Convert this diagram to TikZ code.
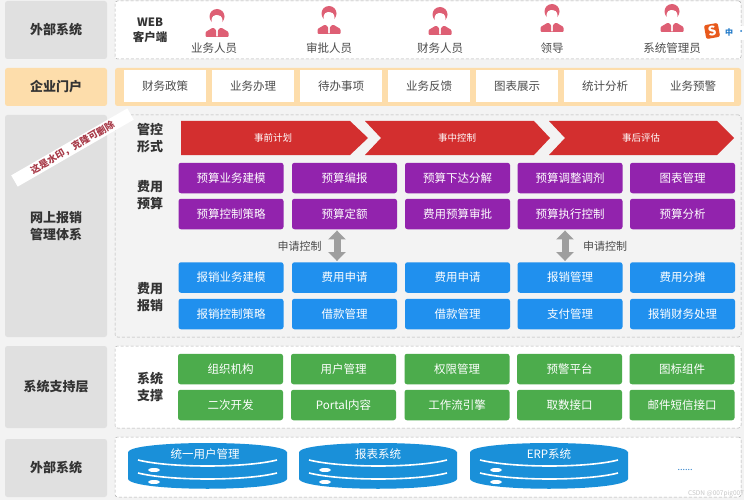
\documentclass[tikz,border=0pt]{standalone}
\usepackage{fontspec}
\setmainfont{Noto Sans CJK SC}
\usetikzlibrary{arrows.meta}

\definecolor{pagegray}{HTML}{F3F3F3}
\definecolor{sidegray}{HTML}{E0E0E0}
\definecolor{sideorange}{HTML}{FDDDAB}
\definecolor{ctlred}{HTML}{D32F2F}
\definecolor{ysviolet}{HTML}{9223AD}
\definecolor{bxblue}{HTML}{2090EE}
\definecolor{zcgreen}{HTML}{4CAC4C}
\definecolor{dbblue}{HTML}{1A90D9}
\definecolor{personred}{HTML}{DE5F74}
\definecolor{stampred}{HTML}{A83A48}
\definecolor{sogouorange}{HTML}{E8591C}
\definecolor{sogoublue}{HTML}{1E78C8}

\begin{document}
\begin{tikzpicture}[x=1pt, y=-1pt,
    side/.style={rounded corners=2.5pt, fill=sidegray, inner sep=0pt, font=\fontsize{13}{17}\selectfont\bfseries, text=black!80, align=center},
    layer/.style={rounded corners=2.5pt, draw=black!30, densely dashed, line width=0.5pt, inner sep=0pt},
    portal/.style={fill=white, minimum width=82pt, minimum height=32pt, inner sep=0pt, font=\fontsize{11.5}{14}\selectfont, text=black!70},
    head/.style={inner sep=0pt, font=\fontsize{13}{17}\selectfont\bfseries, text=black!80, align=center},
    role/.style={inner sep=0pt, font=\fontsize{11.5}{14}\selectfont, text=black!70},
    ctl/.style={inner sep=0pt, text=white, font=\fontsize{9.5}{11}\selectfont},
    func/.style={rounded corners=2.5pt, minimum width=105pt, minimum height=30.5pt, inner sep=0pt, text=white, font=\fontsize{11.5}{14}\selectfont},
    ys/.style={func, fill=ysviolet},
    bx/.style={func, fill=bxblue},
    zc/.style={func, fill=zcgreen},
    ctlarrow/.style={draw=black!38, line width=7pt, shorten >=1pt, shorten <=1pt, {Triangle[width=17pt,length=9pt]}-{Triangle[width=17pt,length=9pt]}},
    db/.style={fill=dbblue},
    dbline/.style={draw=white, line width=1.6pt},
    person/.pic={
      \fill[personred, rounded corners=1pt] (-11.5,28) -- (-11.5,23) -- (-4,18.5) -- (-0.8,21) -- (-0.8,28) -- (0.8,28) -- (0.8,21) -- (4,18.5) -- (11.5,23) -- (11.5,28) -- cycle;
      \fill[personred] (0,7.5) ellipse (7.5pt and 7.5pt);
      \fill[white] (0,11.5) ellipse (5.5pt and 6pt);
      \fill[personred] (-5.5,8.5) -- (-3,5.5) -- (3.5,6.5) -- (5.5,9) -- (5.5,3) -- (-5.5,3) -- cycle;
    }]
  \useasboundingbox (0,0) rectangle (744,500);
  \fill[pagegray] (0,0) rectangle (744,500);

  % Side labels
  \draw (56,30)    node(sExt)  [side, minimum width=102pt, minimum height=58pt] {外部系统};
  \draw (56,87)    node(sPort) [side, fill=sideorange, minimum width=102pt, minimum height=38pt] {企业门户};
  \draw (56,226)   node(sBx)   [side, minimum width=102pt, minimum height=222pt, align=center] {网上报销\\管理体系};
  \draw (56,387)   node(sSup)  [side, minimum width=102pt, minimum height=82pt] {系统支持层};
  \draw (56,468)   node(sOut)  [side, minimum width=102pt, minimum height=58pt] {外部系统};

  % Layers
  \draw (428,30)   node(lExt)  [layer, fill=white, minimum width=626pt, minimum height=58pt] {};
  \draw (428,87)   node(lPort) [rounded corners=2.5pt, fill=sideorange, minimum width=626pt, minimum height=38pt] {};
  \draw (428,226)  node(lBx)   [layer, minimum width=626pt, minimum height=222pt] {};
  \draw (428,387)  node(lSup)  [layer, fill=white, minimum width=626pt, minimum height=82pt] {};
  \draw (428,467)  node(lOut)  [layer, fill=white, minimum width=626pt, minimum height=60pt] {};

  % External users
  \draw (150,30)   node(web)   [head, font=\fontsize{11.5}{15}\selectfont\bfseries] {WEB\\客户端};
  \pic at (217,9)  {person};
  \pic at (329,6)  {person};
  \pic at (440,7)  {person};
  \pic at (552,4)  {person};
  \pic at (672,4)  {person};
  \draw (214,48)   node(r1)    [role] {业务人员};
  \draw (329,48)   node(r2)    [role] {审批人员};
  \draw (440,48)   node(r3)    [role] {财务人员};
  \draw (552,48)   node(r4)    [role] {领导};
  \draw (672,48)   node(r5)    [role] {系统管理员};

  % Portal
  \draw (165,86)   node(p1)    [portal] {财务政策};
  \draw (253,86)   node(p2)    [portal] {业务办理};
  \draw (341,86)   node(p3)    [portal] {待办事项};
  \draw (429,86)   node(p4)    [portal] {业务反馈};
  \draw (517,86)   node(p5)    [portal] {图表展示};
  \draw (605,86)   node(p6)    [portal] {统计分析};
  \draw (693,86)   node(p7)    [portal] {业务预警};

  % Control chevrons
  \fill[ctlred] (181,121) -- (350,121) -- (368,138) -- (350,155) -- (181,155) -- cycle;
  \fill[ctlred] (365,121) -- (534,121) -- (550,138) -- (534,155) -- (365,155) -- (381,138) -- cycle;
  \fill[ctlred] (549,121) -- (717,121) -- (734,138) -- (717,155) -- (549,155) -- (565,138) -- cycle;
  \draw (273,138)  node(c1)    [ctl] {事前计划};
  \draw (457,138)  node(c2)    [ctl] {事中控制};
  \draw (641,138)  node(c3)    [ctl] {事后评估};

  % Row heads
  \draw (150,138)  node(hCtl)  [head] {管控\\形式};
  \draw (150,195)  node(hYs)   [head] {费用\\预算};
  \draw (150,297)  node(hBx)   [head] {费用\\报销};
  \draw (150,387)  node(hZc)   [head] {系统\\支撑};

  % Budget
  \draw (231,178)  node(ys1)   [ys] {预算业务建模};
  \draw (344.5,178) node(ys2)  [ys] {预算编报};
  \draw (457.5,178) node(ys3)  [ys] {预算下达分解};
  \draw (570,178)  node(ys4)   [ys] {预算调整调剂};
  \draw (682.5,178) node(ys5)  [ys] {图表管理};
  \draw (231,214)  node(ys6)   [ys] {预算控制策略};
  \draw (344.5,214) node(ys7)  [ys] {预算定额};
  \draw (457.5,214) node(ys8)  [ys] {费用预算审批};
  \draw (570,214)  node(ys9)   [ys] {预算执行控制};
  \draw (682.5,214) node(ys10) [ys] {预算分析};

  % Reimbursement
  \draw (231,277.5)  node(bx1) [bx] {报销业务建模};
  \draw (344.5,277.5) node(bx2) [bx] {费用申请};
  \draw (457.5,277.5) node(bx3) [bx] {费用申请};
  \draw (570,277.5)  node(bx4) [bx] {报销管理};
  \draw (682.5,277.5) node(bx5) [bx] {费用分摊};
  \draw (231,314)  node(bx6)   [bx] {报销控制策略};
  \draw (344.5,314) node(bx7)  [bx] {借款管理};
  \draw (457.5,314) node(bx8)  [bx] {借款管理};
  \draw (570,314)  node(bx9)   [bx] {支付管理};
  \draw (682.5,314) node(bx10) [bx] {报销财务处理};

  % Apply control arrows
  \draw[ctlarrow] ([xshift=-7.5pt]ys7.south) -- ([xshift=-7.5pt]bx2.north);
  \draw[ctlarrow] ([xshift=-5pt]ys9.south) -- ([xshift=-5pt]bx4.north);
  \draw (299.5,246) node(a1)   [role, font=\fontsize{11}{13}\selectfont] {申请控制};
  \draw (605,246)  node(a2)    [role, font=\fontsize{11}{13}\selectfont] {申请控制};

  % Support
  \draw (230.5,369)  node(zc1) [zc] {组织机构};
  \draw (343.5,369)  node(zc2) [zc] {用户管理};
  \draw (457,369)    node(zc3) [zc] {权限管理};
  \draw (569.5,369)  node(zc4) [zc] {预警平台};
  \draw (682,369)    node(zc5) [zc] {图标组件};
  \draw (230.5,405)  node(zc6) [zc] {二次开发};
  \draw (343.5,405)  node(zc7) [zc] {Portal内容};
  \draw (457,405)    node(zc8) [zc] {工作流引擎};
  \draw (569.5,405)  node(zc9) [zc] {取数接口};
  \draw (682,405)    node(zc10) [zc] {邮件短信接口};

  % Databases
  \fill[db] (128,452) .. controls (132,440) and (283,440) .. (287,452) -- (287,479) .. controls (283,492) and (132,492) .. (128,479) -- cycle;
  \fill[db] (299,452) .. controls (303,440) and (453,440) .. (457,452) -- (457,479) .. controls (453,492) and (303,492) .. (299,479) -- cycle;
  \fill[db] (470,452) .. controls (474,440) and (624,440) .. (628,452) -- (628,479) .. controls (624,492) and (474,492) .. (470,479) -- cycle;
  \draw[dbline] (138,460) .. controls (170,468) and (245,468) .. (277,460);
  \draw[dbline] (138,473) .. controls (170,481) and (245,481) .. (277,473);
  \draw[dbline] (309,460) .. controls (341,468) and (416,468) .. (447,460);
  \draw[dbline] (309,473) .. controls (341,481) and (416,481) .. (447,473);
  \draw[dbline] (480,460) .. controls (512,468) and (587,468) .. (618,460);
  \draw[dbline] (480,473) .. controls (512,481) and (587,481) .. (618,473);
  \fill[white] (154,470) ellipse (6pt and 2pt);
  \fill[white] (154,482) ellipse (6pt and 2pt);
  \fill[white] (325,470) ellipse (6pt and 2pt);
  \fill[white] (325,482) ellipse (6pt and 2pt);
  \fill[white] (496,470) ellipse (6pt and 2pt);
  \fill[white] (496,482) ellipse (6pt and 2pt);
  \draw (205,454)  node(d1)    [role, text=white] {统一用户管理};
  \draw (378,454)  node(d2)    [role, text=white] {报表系统};
  \draw (549,454)  node(d3)    [role, text=white] {ERP系统};
  \draw (685,470)  node(d4)    [role, text=sogoublue, font=\fontsize{9}{10}\selectfont] {......};

  % Stamp over the side column
  \draw (72.5,147.5) node(band) [fill=white, rotate=30, minimum width=134pt, minimum height=13pt, inner sep=0pt, text=stampred, font=\fontsize{9.5}{11}\selectfont\bfseries] {这是水印，克隆可删除};

  % Input method chip
  \fill[white] (716,26) rectangle (744,40);
  \draw (712,31)   node(sg)    [fill=sogouorange, rounded corners=2pt, rotate=10, minimum size=14pt, inner sep=0pt, text=white, font=\fontsize{13}{13}\selectfont\bfseries] {S};
  \draw (729,32)   node(zh)    [inner sep=0pt, text=sogoublue, font=\fontsize{8}{10}\selectfont\bfseries] {中};
  \draw (741,31)   node(dot)   [circle, fill=sogoublue, minimum size=2pt, inner sep=0pt] {};

  % Credit
  \draw (716,494)  node(cr)    [inner sep=0pt, text=black!22, font=\fontsize{6.5}{8}\selectfont\itshape] {CSDN @007pig007};
\end{tikzpicture}
\end{document}
